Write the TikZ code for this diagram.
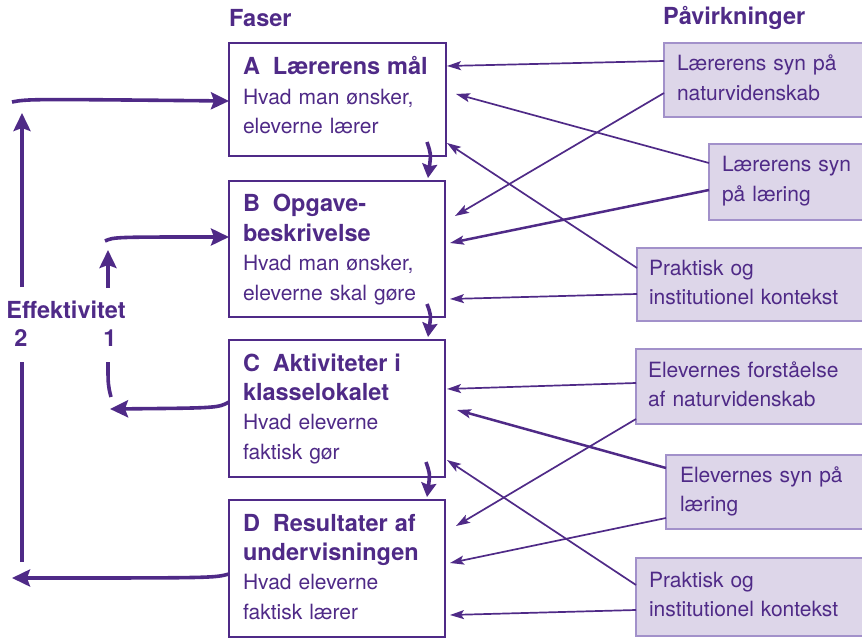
\documentclass[tikz,border=0pt]{standalone}
\usepackage{fontspec}
\setmainfont{TeX Gyre Heros}
\usetikzlibrary{arrows.meta,calc}
\definecolor{pur}{HTML}{4F2A87}
\definecolor{lav}{HTML}{DDD6E9}
\definecolor{lavb}{HTML}{A291CA}
\newcommand\hdr[1]{{\fontsize{23.5}{29.4}\selectfont\bfseries #1}}
\begin{document}
\begin{tikzpicture}[x=1pt,y=-1pt,
  phase/.style={draw=pur,line width=2.6pt,anchor=north west,inner sep=0pt,outer sep=0pt,fill=white},
  infl/.style={draw=lavb,line width=1.3pt,fill=lav,anchor=north west,inner sep=0pt,outer sep=0pt},
  btxt/.style={anchor=base west,inner sep=0pt,outer sep=0pt,text=pur,align=left,text width=215pt,font=\fontsize{21}{29.4}\selectfont},
  title/.style={anchor=base west,inner sep=0pt,text=pur,font=\fontsize{23.5}{28}\selectfont\bfseries},
  infarrow/.style={draw=pur,line width=1.7pt,-{Stealth[length=14pt,width=9pt,inset=3pt]}},
  infarrowthick/.style={infarrow,line width=2.5pt},
  downarrow/.style={draw=pur,line width=3.6pt,-{Stealth[length=14pt,width=15pt,inset=2pt]}},
  looparrow/.style={draw=pur,line width=3.6pt,-{Stealth[length=18pt,width=17pt,inset=3pt]}},
  loopline/.style={draw=pur,line width=3.6pt}
]
\useasboundingbox (0,0) rectangle (862,639);
\clip (0,0) rectangle (862,639);

% titles
\node[title] (faser) at (229,27) {Faser};
\node[title] (pav) at (663,25) {Påvirkninger};

% phase boxes
\node[phase,minimum width=217pt,minimum height=113pt] (A) at (229,43) {};
\node[phase,minimum width=216pt,minimum height=136pt] (B) at (229,181) {};
\node[phase,minimum width=216pt,minimum height=137pt] (C) at (229,340) {};
\node[phase,minimum width=216pt,minimum height=137pt] (D) at (229,500) {};

\node[btxt] (At) at ($(A.north west)+(14,32)$) {\hdr{A\hspace{0.55em}Lærerens mål}\\Hvad man ønsker,\\eleverne lærer};
\node[btxt] (Bt) at ($(B.north west)+(14,31)$) {\hdr{B\hspace{0.55em}Opgave-}\\\hdr{beskrivelse}\\Hvad man ønsker,\\eleverne skal gøre};
\node[btxt] (Ct) at ($(C.north west)+(14,31)$) {\hdr{C\hspace{0.55em}Aktiviteter i}\\\hdr{klasselokalet}\\Hvad eleverne\\faktisk gør};
\node[btxt] (Dt) at ($(D.north west)+(14,31)$) {\hdr{D\hspace{0.55em}Resultater af}\\\hdr{undervisningen}\\Hvad eleverne\\faktisk lærer};

% influence boxes
\node[infl,minimum width=210pt,minimum height=74pt] (R1) at (664,43) {};
\node[infl,minimum width=170pt,minimum height=76pt] (R2) at (709,144) {};
\node[infl,minimum width=240pt,minimum height=73pt] (R3) at (637,248) {};
\node[infl,minimum width=240pt,minimum height=75pt] (R4) at (636,349) {};
\node[infl,minimum width=210pt,minimum height=74pt] (R5) at (666,455) {};
\node[infl,minimum width=240pt,minimum height=78pt] (R6) at (636,558) {};

\node[btxt] (R1t) at ($(R1.north west)+(13,28)$) {Lærerens syn på\\naturvidenskab};
\node[btxt] (R2t) at ($(R2.north west)+(13,28)$) {Lærerens syn\\på læring};
\node[btxt] (R3t) at ($(R3.north west)+(12,27)$) {Praktisk og\\institutionel kontekst};
\node[btxt] (R4t) at ($(R4.north west)+(12,28)$) {Elevernes forståelse\\af naturvidenskab};
\node[btxt] (R5t) at ($(R5.north west)+(14,27)$) {Elevernes syn på\\læring};
\node[btxt] (R6t) at ($(R6.north west)+(13,29)$) {Praktisk og\\institutionel kontekst};

% influence arrows
\draw[infarrow] ($(R1.north west)+(0,18)$) -- ($(A.north east)+(1,23)$);
\draw[infarrow] ($(R1.north west)+(0,50)$) -- ($(B.north east)+(10,35)$);
\draw[infarrow] ($(R2.north west)+(0,19)$) -- ($(A.north east)+(10,51)$);
\draw[infarrowthick] ($(R2.north west)+(0,46)$) -- ($(B.north east)+(5,62)$);
\draw[infarrow] ($(R3.north west)+(0,20)$) -- ($(A.north east)+(1,100)$);
\draw[infarrow] ($(R3.north west)+(0,46)$) -- ($(B.north east)+(5,118)$);

\draw[infarrow] ($(R4.north west)+(0,34)$) -- ($(C.north east)+(2,49)$);
\draw[infarrow] ($(R4.north west)+(0,70)$) -- ($(D.north east)+(11,26)$);
\draw[infarrowthick] ($(R5.north west)+(0,13)$) -- ($(C.north east)+(12,70)$);
\draw[infarrow] ($(R5.north west)+(0,63)$) -- ($(D.north east)+(5,63)$);
\draw[infarrow] ($(R6.north west)+(0,27)$) -- ($(C.north east)+(2,120)$);
\draw[infarrow] ($(R6.north west)+(0,52)$) -- ($(D.north east)+(5,115)$);

% phase-to-phase arrows
\draw[downarrow] ($(A.south east)+(-19,-14)$) .. controls ($(A.south east)+(-15,-2)$) .. ($(B.north east)+(-17,-3)$);
\draw[downarrow] ($(B.south east)+(-18,-13)$) .. controls ($(B.south east)+(-14,-2)$) .. ($(C.north east)+(-17,-3)$);
\draw[downarrow] ($(C.south east)+(-19,-15)$) .. controls ($(C.south east)+(-15,-3)$) .. ($(D.north east)+(-18,-3)$);

% efficiency loops
\coordinate (e2end) at (12,578);
\coordinate (e2lowtop) at (22,362);
\coordinate (e2lowbot) at (22,562);
\coordinate (e2upbot) at (22,287);
\coordinate (e2uptop) at (22,113);
\coordinate (e2start) at (12,102);
\draw[looparrow] ($(D.north west)+(0,74)$) .. controls (214,578) .. (e2end);
\draw[loopline] (e2lowbot) -- (e2lowtop);
\draw[looparrow] (e2upbot) -- (e2uptop);
\draw[looparrow] (e2start) .. controls (28,99) .. ($(A.north west)+(0,58)$);

\coordinate (e1end) at (110,409);
\coordinate (e1lowbot) at (111,397);
\coordinate (e1lowtop) at (108,362);
\coordinate (e1upbot) at (108,288);
\coordinate (e1uptop) at (108,250);
\coordinate (e1start) at (105,241);
\draw[looparrow] ($(C.north west)+(0,62)$) .. controls (218,408) .. (e1end);
\draw[loopline] (e1lowtop) .. controls (108,385) .. (e1lowbot);
\draw[looparrow] (e1upbot) -- (e1uptop);
\draw[looparrow] (e1start) .. controls (114,237) .. ($(B.north west)+(0,56)$);

\node[title,anchor=base] (eff) at (66,318) {Effektivitet};
\node[title,anchor=base] (n2) at (21,346) {2};
\node[title,anchor=base] (n1) at (110,346) {1};
\end{tikzpicture}
\end{document}
